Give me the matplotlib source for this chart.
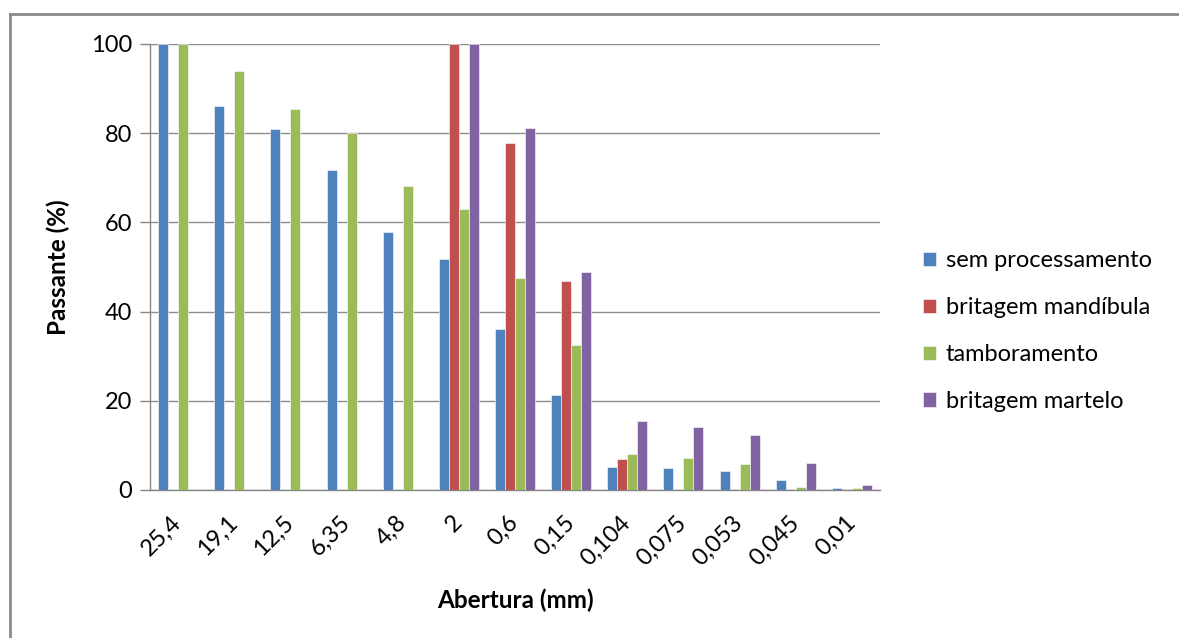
import numpy as np
import matplotlib
matplotlib.use('Agg')
import matplotlib.pyplot as plt
from matplotlib.lines import Line2D

plt.rcParams['font.family'] = ['Lato', 'DejaVu Sans']

aberturas = ['25,4', '19,1', '12,5', '6,35', '4,8', '2', '0,6', '0,15',
             '0,104', '0,075', '0,053', '0,045', '0,01']
nan = np.nan
sem_proc = [100, 86.2, 81.0, 71.8, 57.8, 51.7, 36.0, 21.2, 5.2, 4.9, 4.3, 2.3, 0.4]
brit_mand = [nan, nan, nan, nan, nan, 100, 77.9, 46.9, 6.9, nan, nan, nan, nan]
tamborament = [100, 94.0, 85.4, 80.0, 68.2, 62.9, 47.5, 32.5, 8.1, 7.2, 5.8, 0.6, 0.4]
brit_mart = [nan, nan, nan, nan, nan, 100, 81.1, 48.9, 15.5, 14.1, 12.4, 6.1, 1.1]

series = [sem_proc, brit_mand, tamborament, brit_mart]
nomes = ['sem processamento', 'britagem mandíbula', 'tamboramento', 'britagem martelo']
cores = ['#4F81BD', '#C0504D', '#9BBB59', '#8064A2']

fig = plt.figure(figsize=(11.79, 6.38), dpi=100)
ax = fig.add_axes([150/1179, 1-490/638, 730/1179, 446/638])

ind = np.arange(len(aberturas))
width = 0.178
for k, (vals, nome, cor) in enumerate(zip(series, nomes, cores)):
    ax.bar(ind + (k-1.5)*width, vals, width, color=cor, label=nome,
           edgecolor='white', linewidth=0.4, zorder=3)

ax.set_xlim(-0.5, len(aberturas)-0.5)
ax.set_ylim(0, 100)
ax.set_yticks(np.arange(0, 101, 20))
ax.set_xticks(ind)
ax.set_xticklabels(aberturas, rotation=45, ha='right', va='center', rotation_mode='anchor')
ax.tick_params(axis='x', length=0, labelsize=17, pad=21)
ax.tick_params(axis='y', length=7, width=1, color='#868686', labelsize=17, pad=6)

ax.grid(axis='y', color='#8c8c8c', linewidth=1, zorder=0)
for s in ['top', 'right']:
    ax.spines[s].set_visible(False)
for s in ['left', 'bottom']:
    ax.spines[s].set_color('#868686')
    ax.spines[s].set_linewidth(1)

ax.set_xlabel('Abertura (mm)', fontsize=17.5, fontweight='bold')
ax.set_ylabel('Passante (%)', fontsize=17.5, fontweight='bold')
ax.xaxis.set_label_coords(0.5, -0.222)
ax.yaxis.set_label_coords(-0.11, 0.5)

ax.legend(loc='center left', bbox_to_anchor=(914/1179, 1-331/638),
          bbox_transform=fig.transFigure, frameon=False, fontsize=17,
          handlelength=0.55, handleheight=0.55, handletextpad=0.4,
          labelspacing=1.1, borderaxespad=0)

# moldura do grafico (so topo e esquerda aparecem)
fig.add_artist(Line2D([10/1179, 10/1179], [0, 1-14/638], transform=fig.transFigure,
                      color='#8a8a8a', linewidth=2))
fig.add_artist(Line2D([10/1179, 1], [1-14/638, 1-14/638], transform=fig.transFigure,
                      color='#8a8a8a', linewidth=2))

plt.savefig('out.png', dpi=100)
